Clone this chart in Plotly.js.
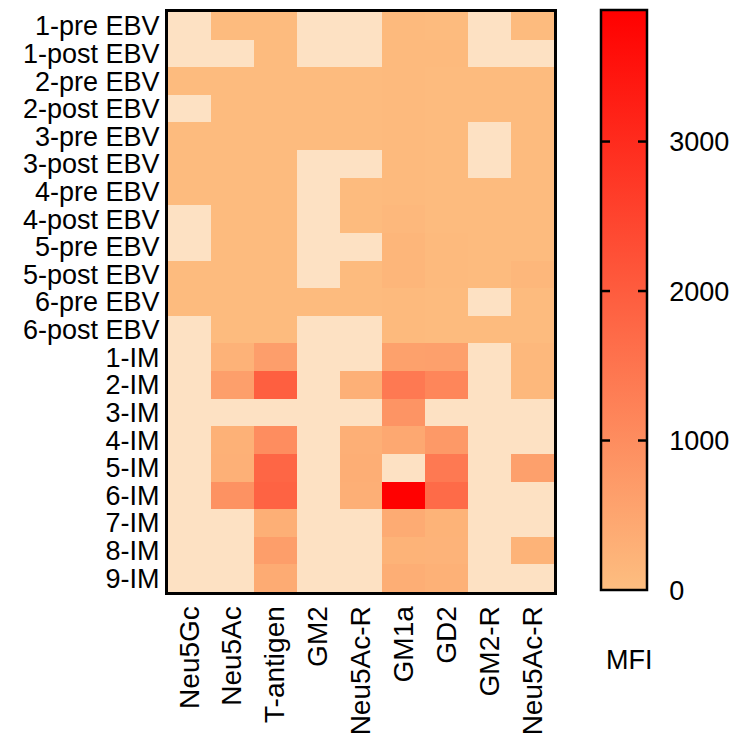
<!DOCTYPE html>
<html>
<head>
<meta charset="utf-8">
<script src="https://cdn.plot.ly/plotly-3.0.1.min.js"></script>
<style>html,body{margin:0;padding:0;background:#fff;}</style>
</head>
<body>
<div id="chart" style="width:741px;height:742px;"></div>
<script>
// Column labels (glycans) — note Neu5Ac-R appears twice
const glycans = ["Neu5Gc", "Neu5Ac", "T-antigen", "GM2", "Neu5Ac-R", "GM1a", "GD2", "GM2-R", "Neu5Ac-R"];
// Row labels (samples)
const samples = ["1-pre EBV", "1-post EBV", "2-pre EBV", "2-post EBV", "3-pre EBV", "3-post EBV",
  "4-pre EBV", "4-post EBV", "5-pre EBV", "5-post EBV", "6-pre EBV", "6-post EBV",
  "1-IM", "2-IM", "3-IM", "4-IM", "5-IM", "6-IM", "7-IM", "8-IM", "9-IM"];
// MFI values; negative values (below 0) are drawn in the pale "below range" colour
const mfi = [
  [-50,  60,  70, -50, -50,  80,  70, -50,  60],
  [-50, -50,  70, -50, -50,  80,  80, -50, -50],
  [ 60,  60,  70,  60,  60,  80,  70,  60,  60],
  [-50,  60,  70,  60,  60,  80,  70,  60,  60],
  [ 60,  60,  70,  60,  60,  80,  70, -50,  60],
  [ 60,  60,  70, -50, -50,  80,  70, -50,  60],
  [ 60,  60,  70, -50,  60,  90,  70,  60,  60],
  [-50,  60,  70, -50,  60, 120,  70,  60,  60],
  [-50,  60,  70, -50, -50, 170,  80,  60,  60],
  [ 60,  60,  70, -50,  60, 170,  80,  70, 140],
  [ 60,  60,  70,  60,  60,  90,  70, -50,  60],
  [-50,  60,  70, -50, -50,  90,  70,  60,  60],
  [-50, 250, 650, -50, -50, 600, 620, -50, 130],
  [-50, 630,1950, -50, 280,1400,1150, -50, 130],
  [-50, -50, -50, -50, -50, 860, -50, -50, -50],
  [-50, 260,1000, -50, 300, 450, 760, -50, -50],
  [-50, 280,1800, -50, 330, -50,1400, -50, 620],
  [-50, 900,1850, -50, 300,3850,1700, -50, -50],
  [-50, -50, 300, -50, -50, 380, 230, -50, -50],
  [-50, -50, 660, -50, -50, 230, 220, -50, 230],
  [-50, -50, 380, -50, -50, 330, 260, -50, -50]
];
const zMax = 3880;
const cbTicks = [0, 1000, 2000, 3000];

const xIdx = glycans.map((_, i) => i);
const yIdx = samples.map((_, i) => i);
const mainZ = mfi.map(r => r.map(v => v < 0 ? null : v));
const paleZ = mfi.map(r => r.map(v => v < 0 ? 1 : null));

const font = "Arial, 'Liberation Sans', sans-serif";

const traces = [
  {
    type: "heatmap", x: xIdx, y: yIdx, z: mainZ,
    zmin: 0, zmax: zMax,
    colorscale: [[0, "#FDBE80"], [1, "#FF0000"]],
    hoverongaps: false,
    colorbar: {
      x: 1.121, xanchor: "left", xref: "paper",
      y: 1.003, yanchor: "top", len: 1.0, lenmode: "fraction",
      thickness: 46, outlinewidth: 2.5, outlinecolor: "#000",
      ypad: 0, xpad: 0,
      tickvals: cbTicks,
      ticks: "outside", ticklen: 16, tickcolor: "rgba(0,0,0,0)",
      tickfont: {family: font, size: 27, color: "#000"}
    }
  },
  {
    type: "heatmap", x: xIdx, y: yIdx, z: paleZ,
    zmin: 0, zmax: 1, showscale: false,
    colorscale: [[0, "#FDE1C3"], [1, "#FDE1C3"]],
    hoverongaps: false
  }
];

const layout = {
  width: 741, height: 742,
  margin: {l: 168, r: 186, t: 10, b: 150},
  paper_bgcolor: "#fff", plot_bgcolor: "#fff",
  font: {family: font, color: "#000"},
  xaxis: {
    tickvals: xIdx, ticktext: glycans, tickangle: -90,
    tickfont: {family: font, size: 28, color: "#000"},
    showline: true, linewidth: 3, linecolor: "#000", mirror: true,
    showgrid: false, zeroline: false, ticks: "", range: [-0.5, 8.5]
  },
  yaxis: {
    tickvals: yIdx, ticktext: samples, autorange: false, range: [20.5, -0.5],
    tickfont: {family: font, size: 27, color: "#000"},
    showline: true, linewidth: 3, linecolor: "#000", mirror: true,
    showgrid: false, zeroline: false, ticks: ""
  },
  annotations: [{
    text: "MFI", xref: "paper", yref: "paper", x: 1.196, y: -0.117,
    xanchor: "center", yanchor: "middle", showarrow: false,
    font: {family: font, size: 27, color: "#000"}
  }],
  showlegend: false
};

Plotly.newPlot("chart", traces, layout, {displayModeBar: false, staticPlot: true}).then(gd => {
  // small inside tick marks on both edges of the colour bar, at the colour bar's own scale
  const outline = gd.querySelector(".colorbar .cboutline");
  if (!outline) return;
  const svg = gd.querySelector(".main-svg:last-of-type") || outline.ownerSVGElement;
  const root = outline.ownerSVGElement;
  const r = outline.getBoundingClientRect();
  const sr = root.getBoundingClientRect();
  const left = r.left - sr.left, right = r.right - sr.left;
  const top = r.top - sr.top, h = r.height;
  const ns = "http://www.w3.org/2000/svg";
  const g = document.createElementNS(ns, "g");
  cbTicks.filter(v => v > 0).forEach(v => {
    const yy = top + h * (1 - v / zMax);
    [[left, left + 9], [right - 9, right]].forEach(([x1, x2]) => {
      const ln = document.createElementNS(ns, "line");
      ln.setAttribute("x1", x1); ln.setAttribute("x2", x2);
      ln.setAttribute("y1", yy); ln.setAttribute("y2", yy);
      ln.setAttribute("stroke", "#000"); ln.setAttribute("stroke-width", "2.5");
      g.appendChild(ln);
    });
  });
  root.appendChild(g);
});
</script>
</body>
</html>
